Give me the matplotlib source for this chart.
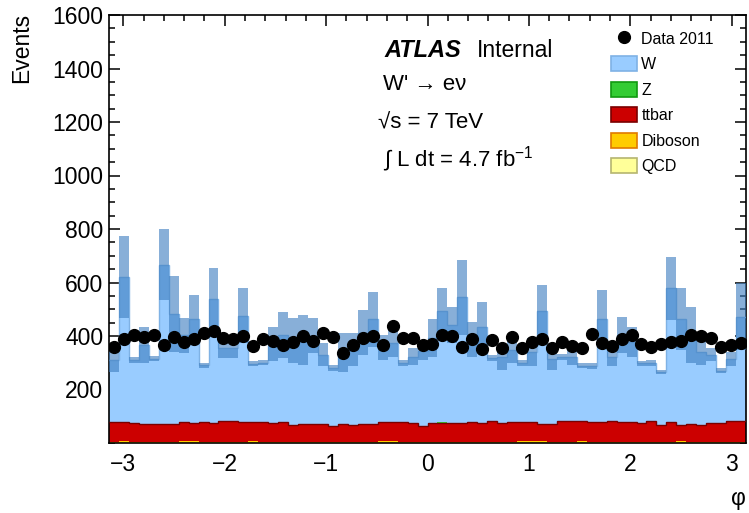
import numpy as np
import matplotlib
matplotlib.use("Agg")
import matplotlib.pyplot as plt
from matplotlib.patches import Patch
from matplotlib.lines import Line2D
from matplotlib.ticker import MultipleLocator

plt.rcParams['font.family'] = ['Liberation Sans', 'DejaVu Sans']
plt.rcParams['mathtext.fontset'] = 'custom'
plt.rcParams['mathtext.rm'] = 'Liberation Sans'
plt.rcParams['mathtext.it'] = 'Liberation Sans:italic'

# 64 bins in phi from -pi to pi
n_bins = 64

data_2011 = [360, 387, 404, 395, 404, 366, 395, 378, 389, 410, 420, 392, 389, 400, 363, 387,
             381, 365, 377, 400, 383, 410, 397, 337, 365, 391, 400, 366, 437, 391, 391, 367,
             371, 404, 400, 360, 389, 350, 385, 354, 398, 357, 376, 389, 356, 376, 364, 356,
             407, 372, 364, 387, 404, 370, 360, 370, 378, 383, 404, 400, 392, 360, 367, 372]

w_mc = [233, 543, 234, 296, 244, 596, 411, 325, 389, 213, 463, 273, 273, 399, 218, 223,
        296, 327, 315, 314, 330, 259, 215, 267, 282, 342, 392, 280, 295, 221, 249, 280,
        319, 418, 366, 470, 311, 360, 236, 246, 269, 221, 262, 420, 242, 240, 241, 206,
        211, 386, 238, 327, 302, 224, 218, 198, 501, 398, 333, 275, 256, 196, 232, 390]

z_mc = [0, 0, 0, 0, 0, 0, 0, 0, 0, 0, 0, 0, 0, 0, 0, 0,
        0, 0, 0, 0, 0, 0, 0, 0, 0, 0, 0, 0, 0, 0, 0, 0,
        0, 3, 0, 0, 0, 0, 0, 0, 0, 0, 0, 0, 0, 0, 0, 0,
        0, 0, 0, 0, 0, 0, 0, 0, 0, 0, 0, 0, 0, 0, 0, 0]

ttbar_mc = [72, 72, 71, 66, 66, 66, 66, 72, 69, 72, 69, 77, 77, 72, 72, 72,
            69, 72, 62, 66, 66, 66, 60, 66, 62, 66, 66, 72, 72, 72, 69, 60,
            69, 69, 69, 69, 72, 69, 77, 69, 72, 72, 72, 66, 66, 77, 77, 77,
            72, 72, 77, 72, 72, 69, 77, 62, 72, 60, 66, 62, 69, 69, 77, 77]

diboson_mc = [3.5, 4.5, 3.5, 3.5, 3.5, 3.5, 3.5, 4.5, 4.5, 3.5, 3.5, 3.5, 3.5, 3.5, 5.0, 3.5,
              3.5, 3.5, 3.5, 3.5, 3.5, 3.5, 3.5, 3.5, 3.5, 3.5, 3.5, 4.5, 4.5, 3.5, 3.5, 3.5,
              3.5, 3.5, 3.5, 3.5, 3.5, 3.5, 3.5, 3.5, 3.5, 4.5, 4.5, 4.5, 3.5, 3.5, 3.5, 4.5,
              3.5, 3.5, 3.5, 3.5, 3.5, 3.5, 3.5, 3.5, 3.5, 4.5, 3.5, 3.5, 3.5, 3.5, 3.5, 3.5]

qcd_mc = [1.5] * n_bins

# uncertainty on the total MC prediction
mc_err = [44, 154, 12, 68, 10, 132, 142, 66, 90, 10, 116, 37, 37, 103, 10, 10,
          65, 87, 84, 93, 65, 43, 12, 72, 63, 84, 103, 47, 50, 12, 31, 35,
          70, 85, 67, 140, 65, 92, 12, 47, 48, 12, 53, 100, 40, 10, 31, 10,
          12, 109, 34, 68, 56, 10, 12, 8, 118, 115, 106, 50, 25, 10, 28, 125]

labels = ['W', 'Z', 'ttbar', 'Diboson', 'QCD']
fill_colors = {'W': '#99ccff', 'Z': '#33cc33', 'ttbar': '#cc0000',
               'Diboson': '#ffcc00', 'QCD': '#ffff99'}
edge_colors = {'W': '#7fb2e5', 'Z': '#119911', 'ttbar': '#7a0000',
               'Diboson': '#e07a00', 'QCD': '#b5b570'}

edges = np.linspace(-np.pi, np.pi, n_bins + 1)
centers = 0.5 * (edges[:-1] + edges[1:])

fig = plt.figure(figsize=(7.49, 5.13), dpi=100)
ax = fig.add_axes([109 / 749, 70 / 513, (746 - 109) / 749, (443 - 15) / 513])

# stack from bottom: QCD, Diboson, ttbar, Z, W
stack_order = [('QCD', qcd_mc), ('Diboson', diboson_mc), ('ttbar', ttbar_mc),
               ('Z', z_mc), ('W', w_mc)]
base = np.zeros(n_bins)
for name, vals in stack_order:
    top = base + np.array(vals, dtype=float)
    ax.stairs(top, edges, baseline=base, fill=True, color=fill_colors[name], zorder=2)
    if name in ('ttbar', 'W'):
        ax.stairs(top, edges, baseline=None, color=edge_colors[name], lw=1.0, zorder=3)
    base = top

total = base
err = np.array(mc_err, dtype=float)
ax.stairs(total + err, edges, baseline=total - err, fill=True,
          color='#3f7fc0', alpha=0.62, lw=0, zorder=4)

ax.plot(centers, data_2011, 'o', color='black', ms=8.5, zorder=5)

ax.set_xlim(-np.pi, np.pi)
ax.set_ylim(0, 1600)
ax.set_yticks(np.arange(200, 1601, 200))
ax.xaxis.set_major_locator(MultipleLocator(1))
ax.xaxis.set_minor_locator(MultipleLocator(0.2))
ax.yaxis.set_minor_locator(MultipleLocator(50))
ax.tick_params(which='both', direction='in', top=True, right=True, width=1.1)
ax.tick_params(which='major', length=8, labelsize=16.5)
ax.tick_params(axis='x', which='major', pad=7)
ax.tick_params(axis='y', which='major', pad=4)
ax.tick_params(which='minor', length=4)
for s in ax.spines.values():
    s.set_linewidth(1.2)

fig.text(22 / 749, 1 - 13 / 513, 'Events', rotation=90, ha='center', va='top', fontsize=16.5)
fig.text(746 / 749, 1 - 505 / 513, 'φ', ha='right', va='baseline', fontsize=16.5)

# ATLAS labels
fig.text(384 / 749, 1 - 57 / 513, 'ATLAS', fontsize=17, fontweight='bold', style='italic')
fig.text(477 / 749, 1 - 57 / 513, 'Internal', fontsize=16.5)
fig.text(383 / 749, 1 - 90 / 513, "W' → eν", fontsize=16)
fig.text(378 / 749, 1 - 128 / 513, '√s = 7 TeV', fontsize=16)
fig.text(383 / 749, 1 - 166 / 513, '∫ L dt = 4.7 fb$^{-1}$', fontsize=16)

handles = [Line2D([], [], marker='o', ls='none', color='black', ms=8.5)]
for name in labels:
    handles.append(Patch(facecolor=fill_colors[name], edgecolor=edge_colors[name], lw=1.2))
fig.legend(handles, ['Data 2011'] + labels, loc='upper left',
           bbox_to_anchor=(611 / 749, 1 - 31 / 513), frameon=False, fontsize=11.5,
           borderpad=0, borderaxespad=0, handlelength=1.6, handleheight=1.05,
           handletextpad=0.3, labelspacing=0.6)

fig.savefig('out.png', dpi=100)
